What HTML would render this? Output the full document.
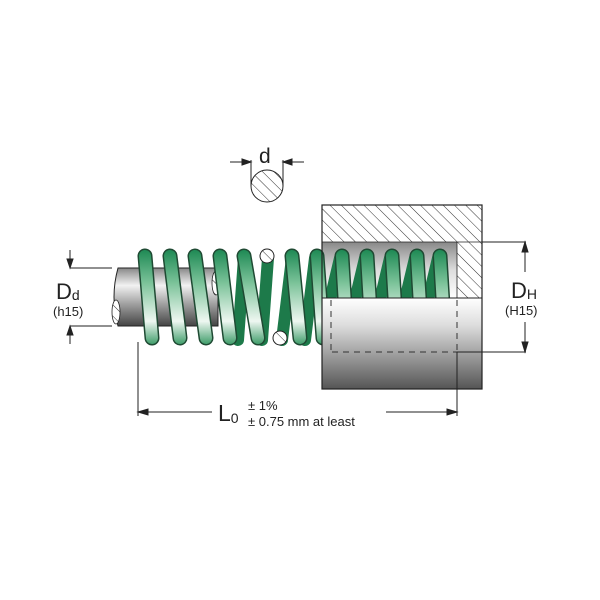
<!DOCTYPE html>
<html><head><meta charset="utf-8"><style>
html,body{margin:0;padding:0;background:#fff;width:600px;height:600px;overflow:hidden}
text{font-family:"Liberation Sans",Arial,sans-serif;fill:#222}
</style></head><body>
<svg width="600" height="600" viewBox="0 0 600 600" xmlns="http://www.w3.org/2000/svg">
<defs>
<pattern id="h" width="8" height="8" patternUnits="userSpaceOnUse" patternTransform="rotate(-45)">
<rect width="8" height="8" fill="#fff"/><line x1="0" y1="0" x2="0" y2="8" stroke="#333" stroke-width="1"/>
</pattern>
<linearGradient id="rod" x1="0" y1="0" x2="0" y2="1">
<stop offset="0" stop-color="#888"/><stop offset="0.3" stop-color="#f2f2f2"/><stop offset="0.65" stop-color="#999"/><stop offset="1" stop-color="#444"/>
</linearGradient>
<linearGradient id="bore" x1="0" y1="0" x2="0" y2="1">
<stop offset="0" stop-color="#888"/><stop offset="0.5" stop-color="#ddd"/><stop offset="1" stop-color="#fff"/>
</linearGradient>
<linearGradient id="body" x1="0" y1="0" x2="0" y2="1">
<stop offset="0" stop-color="#fff"/><stop offset="0.3" stop-color="#ddd"/><stop offset="1" stop-color="#555"/>
</linearGradient>
<linearGradient id="coil" gradientUnits="userSpaceOnUse" x1="0" y1="250" x2="0" y2="345">
<stop offset="0" stop-color="#1f8a55"/><stop offset="0.35" stop-color="#7cc39a"/><stop offset="0.75" stop-color="#eef7f1"/><stop offset="1" stop-color="#3a9a66"/>
</linearGradient>
</defs>

<rect x="322" y="242" width="135" height="56" fill="url(#bore)"/>
<path d="M118,268 H218 V326 H118 Q110,297 118,268 Z" fill="url(#rod)" stroke="#222" stroke-width="1"/>
<ellipse cx="116" cy="312" rx="4" ry="12" fill="url(#h)" stroke="#222" stroke-width="0.8"/>
<ellipse cx="216" cy="283" rx="4" ry="12" fill="url(#h)" stroke="#222" stroke-width="0.8"/>

<g stroke="#1d7a4a" stroke-width="12" stroke-linecap="round" fill="none">
<line x1="238" y1="340" x2="244" y2="258"/>
<line x1="262" y1="340" x2="268" y2="258"/>
<line x1="282" y1="340" x2="292" y2="258"/>
<line x1="305" y1="340" x2="315" y2="258"/>
<line x1="330" y1="300" x2="340" y2="258"/>
<line x1="355" y1="300" x2="365" y2="258"/>
<line x1="380" y1="300" x2="390" y2="258"/>
<line x1="405" y1="300" x2="415" y2="258"/>
<line x1="428" y1="300" x2="438" y2="258"/>
</g>
<g stroke="#1f4a33" stroke-width="15" stroke-linecap="round" fill="none">
<line x1="145" y1="256" x2="152" y2="338"/><line x1="170" y1="256" x2="180" y2="338"/>
<line x1="195" y1="256" x2="206" y2="338"/><line x1="220" y1="256" x2="230" y2="338"/>
<line x1="244" y1="256" x2="258" y2="338"/><line x1="292" y1="256" x2="300" y2="338"/>
<line x1="317" y1="256" x2="323" y2="338"/><line x1="342" y1="256" x2="347" y2="338"/>
<line x1="367" y1="256" x2="372" y2="338"/><line x1="392" y1="256" x2="397" y2="338"/>
<line x1="417" y1="256" x2="422" y2="338"/><line x1="440" y1="256" x2="445" y2="338"/>
</g>
<g stroke="url(#coil)" stroke-width="12" stroke-linecap="round" fill="none">
<line x1="145" y1="256" x2="152" y2="338"/><line x1="170" y1="256" x2="180" y2="338"/>
<line x1="195" y1="256" x2="206" y2="338"/><line x1="220" y1="256" x2="230" y2="338"/>
<line x1="244" y1="256" x2="258" y2="338"/><line x1="292" y1="256" x2="300" y2="338"/>
<line x1="317" y1="256" x2="323" y2="338"/><line x1="342" y1="256" x2="347" y2="338"/>
<line x1="367" y1="256" x2="372" y2="338"/><line x1="392" y1="256" x2="397" y2="338"/>
<line x1="417" y1="256" x2="422" y2="338"/><line x1="440" y1="256" x2="445" y2="338"/>
</g>
<circle cx="267" cy="256" r="7" fill="url(#h)" stroke="#222"/>
<circle cx="280" cy="338" r="7" fill="url(#h)" stroke="#222"/>

<rect x="322" y="205" width="160" height="37" fill="url(#h)"/>
<rect x="457" y="242" width="25" height="56" fill="url(#h)"/>
<rect x="322" y="298" width="160" height="91" fill="url(#body)" stroke="#222"/>
<rect x="322" y="205" width="160" height="184" fill="none" stroke="#222" stroke-width="1.2"/>
<line x1="322" y1="242" x2="482" y2="242" stroke="#222" stroke-width="0.8"/>
<line x1="457" y1="242" x2="457" y2="298" stroke="#222" stroke-width="0.8"/>
<g stroke="#333" stroke-dasharray="6,5" fill="none">
<line x1="331" y1="300" x2="331" y2="350"/><line x1="457" y1="300" x2="457" y2="352"/>
<line x1="332" y1="352" x2="457" y2="352"/>
</g>

<circle cx="267" cy="186" r="16" fill="url(#h)" stroke="#222"/>
<g stroke="#222" stroke-width="1" fill="#222">
<line x1="251" y1="160" x2="251" y2="186"/><line x1="283" y1="160" x2="283" y2="186"/>
<line x1="230" y1="162" x2="251" y2="162"/><line x1="283" y1="162" x2="304" y2="162"/>
<polygon points="251,162 242,159 242,165"/><polygon points="283,162 292,159 292,165"/>
<line x1="70" y1="268" x2="112" y2="268"/><line x1="70" y1="326" x2="112" y2="326"/>
<line x1="70" y1="250" x2="70" y2="268"/><line x1="70" y1="326" x2="70" y2="344"/>
<polygon points="70,268 67,259 73,259"/><polygon points="70,326 67,335 73,335"/>
<line x1="482" y1="242" x2="526" y2="242"/><line x1="457" y1="352" x2="526" y2="352"/>
<line x1="525" y1="242" x2="525" y2="272"/><line x1="525" y1="322" x2="525" y2="352"/>
<polygon points="525,242 522,252 528,252"/><polygon points="525,352 522,342 528,342"/>
<line x1="138" y1="342" x2="138" y2="416"/><line x1="457" y1="352" x2="457" y2="416"/>
<line x1="138" y1="412" x2="212" y2="412"/><line x1="386" y1="412" x2="457" y2="412"/>
<polygon points="138,412 148,409 148,415"/><polygon points="457,412 447,409 447,415"/>
</g>

<text x="259" y="163" font-size="21">d</text>
<text x="56" y="299" font-size="22">D<tspan font-size="14" dy="1">d</tspan></text>
<text x="53" y="316" font-size="13">(h15)</text>
<text x="511" y="298" font-size="22">D<tspan font-size="14" dy="1">H</tspan></text>
<text x="505" y="315" font-size="13">(H15)</text>
<text x="218" y="421" font-size="23">L<tspan font-size="14" dy="2">0</tspan></text>
<text x="248" y="410" font-size="13">± 1%</text>
<text x="248" y="426" font-size="13">± 0.75 mm at least</text>
</svg>
</body></html>
